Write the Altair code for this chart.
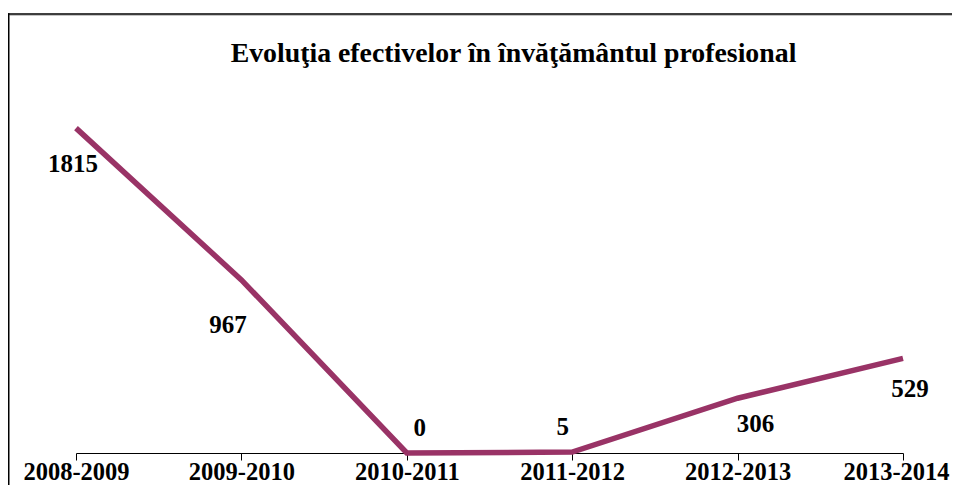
import altair as alt
import pandas as pd

# ---- data ----
periods = ["2008-2009", "2009-2010", "2010-2011", "2011-2012", "2012-2013", "2013-2014"]
values = [1815, 967, 0, 5, 306, 529]
title_text = "Evoluţia efectivelor în învăţământul profesional"

df = pd.DataFrame({"period": periods, "value": values})

# ---- layout / style ----
W, H = 944, 477
FONT = "Liberation Serif"
LINE_COLOR = "#993366"

# label nudges (dx, dy) in pixels, per category, as placed in the reference
nudges = {
    "2008-2009": (-3, 36),
    "2009-2010": (-13.5, 45),
    "2010-2011": (13, -25.5),
    "2011-2012": (-9.5, -25.5),
    "2012-2013": (18, 26),
    "2013-2014": (7, 30.5),
}

x_enc = alt.X(
    "period:N",
    sort=periods,
    scale=alt.Scale(type="point", range=[68, 895], padding=0),
    axis=alt.Axis(
        title=None, orient="bottom", offset=-(H - 445), labelAngle=0,
        labelFont=FONT, labelFontSize=24.5, labelFontWeight="bold", labelColor="black",
        labelPadding=0, labelBaseline="top", tickSize=7, tickColor="black", tickWidth=1,
        domainColor="black", domainWidth=1, grid=False,
        labelFlush=False, labelOverlap=False, labelBound=False,
        labelOffset=alt.condition(f"datum.value == '{periods[-1]}'", alt.value(-7), alt.value(0)),
    ),
)
y_enc = alt.Y("value:Q", scale=alt.Scale(domain=[0, 2000], range=[445, 87]), axis=None)

base = alt.Chart(df)
line = base.mark_line(color=LINE_COLOR, strokeWidth=5.5).encode(x=x_enc, y=y_enc)

labels = []
for p in periods:
    dx, dy = nudges[p]
    labels.append(
        base.transform_filter(alt.datum.period == p)
        .mark_text(dx=dx, dy=dy, font=FONT, fontSize=25, fontWeight="bold",
                   color="black", baseline="middle", align="center")
        .encode(x=x_enc, y=y_enc, text="value:Q")
    )

frame_df = pd.DataFrame({"k": [0]})
frame = alt.Chart(frame_df)
top_border = frame.mark_rule(color="black", strokeWidth=1.5).encode(
    x=alt.value(0), x2=alt.value(W), y=alt.value(6))
top_shadow = frame.mark_rule(color="#c4c4c4", strokeWidth=1.3).encode(
    x=alt.value(1.5), x2=alt.value(W), y=alt.value(7.4))
left_border = frame.mark_rule(color="black", strokeWidth=1.5).encode(
    x=alt.value(0.75), y=alt.value(5.3), y2=alt.value(H))

chart = (
    alt.layer(top_shadow, top_border, left_border, line, *labels)
    .properties(
        width=W, height=H, padding=0,
        autosize=alt.AutoSizeParams(type="none"),
        title=alt.TitleParams(
            title_text, font=FONT, fontSize=27.8, fontWeight="bold", color="black",
            anchor="middle", frame="group", dx=33.5, offset=-82, baseline="alphabetic",
        ),
        background="white",
    )
    .configure_view(stroke=None)
)

chart.save("out.html", embed_options={"renderer": "svg", "actions": False})
